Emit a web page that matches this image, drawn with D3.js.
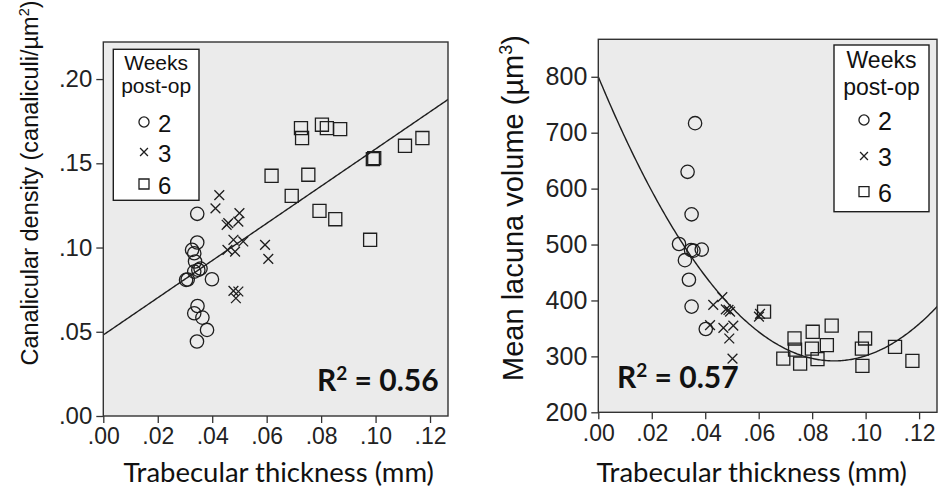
<!DOCTYPE html>
<html>
<head>
<meta charset="utf-8">
<script src="https://cdn.jsdelivr.net/npm/d3@7"></script>
<style>
  body { margin: 0; background: #fff; }
  svg { display: block; }
</style>
</head>
<body>
<div id="chart"></div>
<script>
'use strict'

////////////////////////////////////
//////////////// data //////////////
////////////////////////////////////

const thicknessTicks = [0, .02, .04, .06, .08, .10, .12]
const densityTicks = [0, .05, .10, .15, .20]
const volumeTicks = [200, 300, 400, 500, 600, 700, 800]
const weekLabels = ['2', '3', '6']

// canalicular density vs trabecular thickness, [mm, canaliculi/µm²]
const density2 = [[0.0345,0.120],[0.0345,0.103],[0.0326,0.0986],[0.0334,0.0966],[0.0337,0.0917],
  [0.0349,0.0867],[0.0357,0.0875],[0.0334,0.0857],[0.0304,0.0808],[0.0310,0.0810],[0.0399,0.0812],
  [0.0346,0.0653],[0.0334,0.0610],[0.0364,0.0584],[0.0381,0.0511],[0.0344,0.0442]]
const density3 = [[0.0426,0.1311],[0.0412,0.1232],[0.0500,0.1204],[0.0459,0.1145],[0.0453,0.1135],
  [0.0496,0.1154],[0.0478,0.1046],[0.0514,0.1036],[0.0456,0.0986],[0.0484,0.0976],[0.0594,0.1016],
  [0.0606,0.0933],[0.0478,0.0743],[0.0496,0.0739],[0.0487,0.0699]]
const density6 = [[0.0726,0.1709],[0.0730,0.1650],[0.0803,0.1729],[0.0821,0.1709],[0.0870,0.1703],
  [0.0618,0.1426],[0.0753,0.1432],[0.0692,0.1307],[0.0794,0.1218],[0.0852,0.1168],[0.0980,0.1046],
  [0.0990,0.1525],[0.0995,0.1531],[0.1108,0.1604],[0.1172,0.1650]]

// mean lacuna volume vs trabecular thickness, [mm, µm³]
const volume2 = [[0.0362,717],[0.0334,630],[0.0349,554],[0.0302,501],[0.0347,490],[0.0356,489],
  [0.0387,491],[0.0324,472],[0.0339,437],[0.0349,389],[0.0402,349]]
const volume3 = [[0.0464,406],[0.0430,392],[0.0477,384],[0.0487,383],[0.0493,380],[0.0418,356],
  [0.0468,351],[0.0505,355],[0.0490,332],[0.0502,296],[0.0601,371],[0.0605,376]]
const volume6 = [[0.0620,380],[0.0734,332],[0.0736,312],[0.0692,296],[0.0755,287],[0.0802,344],
  [0.0799,314],[0.0820,295],[0.0855,320],[0.0873,355],[0.0986,314],[0.0988,283],[0.0998,332],
  [0.1110,317],[0.1175,292]]

// fitted curves: coefficients of a + b*x (+ c*x²)
const densityFit = [0.0481, 1.104]
const volumeFit = [800, -11520, 65300]
const densityR2 = '0.56'
const volumeR2 = '0.57'

////////////////////////////////////
//////////// svg setup /////////////
////////////////////////////////////

const svgWidth = 938
const svgHeight = 501

const svg = d3.select('#chart').append('svg')
  .attr('width', svgWidth)
  .attr('height', svgHeight)

const ink = '#1e1e1e'
const tickFont = "'Liberation Sans', Arial, sans-serif"
const titleFont = "Lato, 'Open Sans', sans-serif"

const shapes = [d3.symbolCircle, d3.symbolX, d3.symbolSquare]
const plotSizes = [140, 64, 170]
const legendSizes = [80, 42, 100]

const noZero = d => d3.format('.2f')(d).replace(/^0/, '')

function drawPanel(cfg) {

  const x = d3.scaleLinear().domain([0, cfg.xMax]).range([cfg.left, cfg.right])
  const y = d3.scaleLinear().domain(cfg.yDomain).range([cfg.bottom, cfg.top])

  const g = svg.append('g')

  g.append('clipPath').attr('id', cfg.id + '-clip')
    .append('rect')
    .attr('x', cfg.left).attr('y', cfg.top)
    .attr('width', cfg.right - cfg.left).attr('height', cfg.bottom - cfg.top)

  // panel background
  g.append('rect')
    .attr('x', cfg.left).attr('y', cfg.top)
    .attr('width', cfg.right - cfg.left).attr('height', cfg.bottom - cfg.top)
    .attr('fill', '#ebebeb')

  // axes
  const xAxis = g.append('g')
    .attr('transform', 'translate(0,' + cfg.bottom + ')')
    .call(d3.axisBottom(x).tickValues(thicknessTicks).tickFormat(noZero).tickSize(7).tickPadding(5))
  const yAxis = g.append('g')
    .attr('transform', 'translate(' + cfg.left + ',0)')
    .call(d3.axisLeft(y).tickValues(cfg.yTicks).tickFormat(cfg.yFormat).tickSize(7).tickPadding(4))

  xAxis.selectAll('text').style('font-size', '23px')
  yAxis.selectAll('text').style('font-size', cfg.tickSize + 'px')
  ;[xAxis, yAxis].forEach(a => {
    a.select('.domain').remove()
    a.selectAll('line').attr('stroke', '#333').attr('stroke-width', 1.3)
    a.selectAll('text').attr('fill', '#222').style('font-family', tickFont)
  })

  // fitted curve
  const curve = d3.range(0, cfg.xMax + 0.0005, 0.0005).map(v => [v, cfg.fit(v)])
  g.append('path')
    .datum(curve)
    .attr('clip-path', 'url(#' + cfg.id + '-clip)')
    .attr('d', d3.line().x(d => x(d[0])).y(d => y(d[1])))
    .attr('fill', 'none')
    .attr('stroke', ink)
    .attr('stroke-width', 1.4)

  // points
  cfg.series.forEach((s, i) => {
    g.selectAll('.pt' + i)
      .data(s)
      .enter()
      .append('path')
      .attr('class', 'pt' + i)
      .attr('transform', d => 'translate(' + x(d[0]) + ',' + y(d[1]) + ')')
      .attr('d', d3.symbol().type(shapes[i]).size(plotSizes[i]))
      .attr('fill', 'none')
      .attr('stroke', ink)
      .attr('stroke-width', 1.3)
  })

  // frame
  g.append('rect')
    .attr('x', cfg.left).attr('y', cfg.top)
    .attr('width', cfg.right - cfg.left).attr('height', cfg.bottom - cfg.top)
    .attr('fill', 'none')
    .attr('stroke', '#333')
    .attr('stroke-width', 1.4)

  // legend
  const lg = cfg.legend
  const leg = g.append('g')
  leg.append('rect')
    .attr('x', lg.x).attr('y', lg.y).attr('width', lg.w).attr('height', lg.h)
    .attr('fill', '#fff').attr('stroke', ink).attr('stroke-width', 1.4)
  ;['Weeks', 'post-op'].forEach((t, i) => {
    leg.append('text')
      .attr('x', lg.x + lg.w / 2).attr('y', lg.titleY[i])
      .attr('text-anchor', 'middle')
      .style('font-family', tickFont).style('font-size', lg.font + 'px')
      .attr('fill', '#111')
      .text(t)
  })
  weekLabels.forEach((w, i) => {
    leg.append('path')
      .attr('transform', 'translate(' + lg.markX + ',' + lg.rowY[i] + ')')
      .attr('d', d3.symbol().type(shapes[i]).size(legendSizes[i]))
      .attr('fill', 'none').attr('stroke', ink).attr('stroke-width', 1.3)
    leg.append('text')
      .attr('x', lg.markX + 14).attr('y', lg.rowY[i] + 10)
      .style('font-family', tickFont).style('font-size', lg.numFont + 'px')
      .attr('fill', '#111')
      .text(w)
  })

  // R² label
  const r2 = g.append('text')
    .attr('x', cfg.r2.x).attr('y', cfg.r2.y)
    .style('font-family', titleFont).style('font-weight', 700).style('font-size', '30px')
    .attr('fill', '#111')
  r2.append('tspan').text('R')
  r2.append('tspan').attr('dy', -11).style('font-size', '19px').text('2')
  r2.append('tspan').attr('dy', 11).text(' = ' + cfg.r2.text)

  // axis titles
  g.append('text')
    .attr('x', (cfg.left + cfg.right) / 2 + cfg.xTitleShift).attr('y', 482)
    .attr('text-anchor', 'middle')
    .style('font-family', titleFont).style('font-size', '27.5px')
    .attr('fill', '#111')
    .text('Trabecular thickness (mm)')

  const yt = g.append('text')
    .attr('transform', 'translate(' + cfg.yTitle.x + ',' + cfg.yTitle.y + ') rotate(-90)')
    .attr('text-anchor', 'middle')
    .style('font-family', tickFont).style('font-size', cfg.yTitle.size + 'px')
    .attr('fill', '#111')
  yt.append('tspan').text(cfg.yTitle.text)
  yt.append('tspan').attr('dy', -cfg.yTitle.size * 0.38).style('font-size', (cfg.yTitle.size * 0.62) + 'px').text(cfg.yTitle.sup)
  yt.append('tspan').attr('dy', cfg.yTitle.size * 0.38).text(')')
}

drawPanel({
  id: 'density',
  left: 103.3, right: 448, top: 42, bottom: 416,
  xMax: 0.1266, yDomain: [0, 0.222],
  yTicks: densityTicks, yFormat: noZero, tickSize: 24,
  series: [density2, density3, density6],
  fit: v => densityFit[0] + densityFit[1] * v,
  legend: { x: 113.3, y: 49.3, w: 85.7, h: 151, titleY: [70, 93], rowY: [122, 152, 184], markX: 144, font: 21, numFont: 24 },
  r2: { x: 317, y: 391, text: densityR2 },
  xTitleShift: 3,
  yTitle: { x: 38, y: 183, size: 23.5, text: 'Canalicular density (canaliculi/µm', sup: '2' }
})

drawPanel({
  id: 'volume',
  left: 598.3, right: 937, top: 39.3, bottom: 412.3,
  xMax: 0.1267, yDomain: [200, 867],
  yTicks: volumeTicks, yFormat: d3.format('d'), tickSize: 25,
  series: [volume2, volume3, volume6],
  fit: v => volumeFit[0] + volumeFit[1] * v + volumeFit[2] * v * v,
  legend: { x: 834, y: 45, w: 95, h: 166.7, titleY: [68, 95], rowY: [120, 156, 191.7], markX: 864, font: 23, numFont: 25 },
  r2: { x: 617, y: 388, text: volumeR2 },
  xTitleShift: -16,
  yTitle: { x: 523, y: 208, size: 29, text: 'Mean lacuna volume (µm', sup: '3' }
})
</script>
</body>
</html>
